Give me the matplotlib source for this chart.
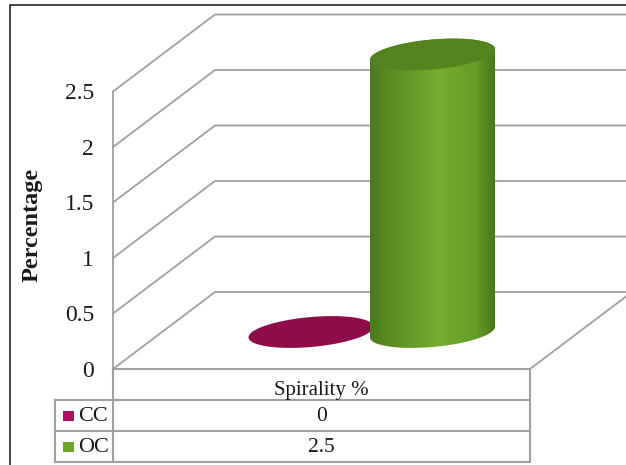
import numpy as np
import matplotlib
matplotlib.use("Agg")
import matplotlib.pyplot as plt
from matplotlib.colors import LinearSegmentedColormap
from matplotlib.patches import Polygon, Rectangle

# Chart data
category = "Spirality %"
series_names = ["CC", "OC"]
series_values = [0, 2.5]
y_ticks = [0, 0.5, 1, 1.5, 2, 2.5]
y_tick_labels = ["0", "0.5", "1", "1.5", "2", "2.5"]
y_title = "Percentage"

plt.rcParams["font.family"] = ["Liberation Serif", "DejaVu Serif"]

W, H = 626, 465
GRID = "#a0a0a0"
INK = "#1a1a1a"
PX_PER_UNIT = 111.0      # vertical pixels per percentage point
ZERO_ROW = 369.0         # pixel row of the front floor edge
FRONT_L, FRONT_R = 113, 530
BACK_L = 215
DEPTH_Y = 77 / PX_PER_UNIT
FLOOR_MID = 37 / PX_PER_UNIT

fig = plt.figure(figsize=(W / 100, H / 100), dpi=100, facecolor="white")

# Plot axes: x in pixels, y in percentage points
ax = fig.add_axes([0, 0, 1, 1])
ax.set_xlim(0, W)
ax.set_ylim((ZERO_ROW - H) / PX_PER_UNIT, ZERO_ROW / PX_PER_UNIT)
ax.axis("off")

# Overlay in pixel coordinates for the frame and data table
tb = fig.add_axes([0, 0, 1, 1])
tb.set_xlim(0, W)
tb.set_ylim(H, 0)
tb.axis("off")
tb.patch.set_alpha(0)

# Outer frame (open on the right and bottom)
tb.plot([10, 10, W], [H, 5, 5], color="#111111", lw=1.1, solid_joinstyle="miter")

# 3D box: side wall diagonals and back wall lines
for v, lab in zip(y_ticks, y_tick_labels):
    ax.plot([FRONT_L, BACK_L, W], [v, v + DEPTH_Y, v + DEPTH_Y],
            color=GRID, lw=1.3, solid_joinstyle="miter", zorder=1)
    ax.text(94, v - 2 / PX_PER_UNIT, lab, ha="right", va="center",
            fontsize=17, color=INK)
ax.plot([FRONT_L, FRONT_L], [0, y_ticks[-1]], color=GRID, lw=1.3, zorder=1)
floor_dx = W - FRONT_R
ax.plot([FRONT_R, W], [0, floor_dx * DEPTH_Y / (BACK_L - FRONT_L)],
        color=GRID, lw=1.3, zorder=1)

ax.text(32, 1.3, y_title, rotation=90, ha="center", va="center",
        fontsize=17.5, fontweight="bold", color=INK)


def cap_points(cx, level, a=62.5, b=15.0, slope=0.085, start=0.0, end=2 * np.pi):
    t = np.linspace(start, end, 120)
    x = cx + a * np.cos(t)
    y = level + (slope * a * np.cos(t) + b * np.sin(t)) / PX_PER_UNIT
    return np.column_stack([x, y])


green_side = LinearSegmentedColormap.from_list(
    "green_side",
    [(0, "#4a7a1c"), (0.12, "#578a22"), (0.55, "#75ae2f"),
     (0.85, "#669c28"), (1, "#4a761b")])

series_x = [311, 432.5]
cap_colors = ["#8e0c4a", "#55831f"]

for name, value, cx, cap in zip(series_names, series_values, series_x, cap_colors):
    if value > 0:
        lower = cap_points(cx, FLOOR_MID, start=np.pi, end=2 * np.pi)
        upper = cap_points(cx, FLOOR_MID + value, start=0, end=np.pi)
        body = Polygon(np.vstack([lower, upper]), closed=True,
                       transform=ax.transData, facecolor="none", edgecolor="none")
        ax.add_patch(body)
        img = ax.imshow(np.linspace(0, 1, 256).reshape(1, -1), cmap=green_side,
                        extent=[cx - 62.5, cx + 62.5, FLOOR_MID - 0.3, FLOOR_MID + value + 0.3],
                        aspect="auto", zorder=3, interpolation="bilinear")
        img.set_clip_path(body)
    ax.add_patch(Polygon(cap_points(cx, FLOOR_MID + value), closed=True,
                         facecolor=cap, edgecolor="none", zorder=4 if value > 0 else 2))

ax.set_xlim(0, W)
ax.set_ylim((ZERO_ROW - H) / PX_PER_UNIT, ZERO_ROW / PX_PER_UNIT)

# Data table beneath the floor
TABLE_L = 55
rows = [369, 400, 431, 462]
tb.plot([FRONT_L, FRONT_R], [rows[0], rows[0]], color=GRID, lw=1.5)
tb.plot([TABLE_L, FRONT_R], [rows[1], rows[1]], color=GRID, lw=1.5)
tb.plot([TABLE_L, FRONT_R], [rows[2], rows[2]], color=GRID, lw=1.5)
tb.plot([TABLE_L, FRONT_R], [rows[3], rows[3]], color=GRID, lw=1.5)
tb.plot([FRONT_L, FRONT_L], [rows[0], rows[3]], color=GRID, lw=1.5)
tb.plot([FRONT_R, FRONT_R], [rows[0], rows[3]], color=GRID, lw=1.5)
tb.plot([TABLE_L, TABLE_L], [rows[1], rows[3]], color=GRID, lw=1.5)

mid_x = (FRONT_L + FRONT_R) / 2
tb.text(mid_x, 390, category, ha="center", va="center", fontsize=15, color=INK)

key_colors = ["#b0125a", "#6fa52b"]
for i, (name, value, key) in enumerate(zip(series_names, series_values, key_colors)):
    row_mid = (rows[i + 1] + rows[i + 2]) / 2
    tb.add_patch(Rectangle((63, row_mid - 5), 11, 10, facecolor=key, edgecolor="none"))
    tb.text(78, row_mid + 0.5, name, ha="left", va="center", fontsize=16, color=INK)
    tb.text(mid_x, row_mid + 0.5, f"{value:g}", ha="center", va="center", fontsize=15.5, color=INK)

fig.savefig("out.png", dpi=100)
